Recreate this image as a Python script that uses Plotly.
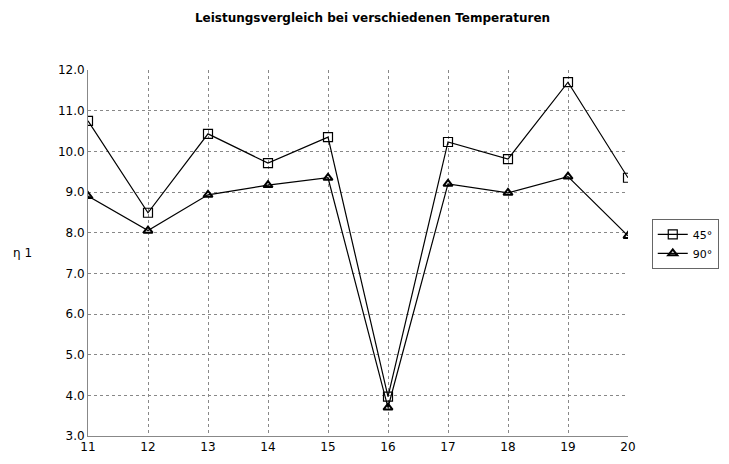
import plotly.graph_objects as go

x_vals = [11, 12, 13, 14, 15, 16, 17, 18, 19, 20]
s45 = [10.75, 8.49, 10.43, 9.71, 10.35, 3.97, 10.23, 9.81, 11.70, 9.35]
s90 = [8.90, 8.05, 8.93, 9.17, 9.35, 3.70, 9.20, 8.98, 9.38, 7.92]
y_ticks = [3, 4, 5, 6, 7, 8, 9, 10, 11, 12]

fig = go.Figure()
fig.add_trace(go.Scatter(
    x=x_vals, y=s45, name="45°", mode="lines+markers",
    line=dict(color="black", width=1.2),
    marker=dict(symbol="square-open", size=9, color="black", line=dict(width=1.2)),
))
fig.add_trace(go.Scatter(
    x=x_vals, y=s90, name="90°", mode="lines+markers",
    line=dict(color="black", width=1.2),
    marker=dict(symbol="triangle-up-open", size=8, color="black", line=dict(width=2)),
))

fig.update_layout(
    width=729, height=464,
    margin=dict(l=80, r=109, t=62, b=36, autoexpand=False),
    paper_bgcolor="white", plot_bgcolor="white",
    font=dict(family="DejaVu Sans", size=12, color="black"),
    title=dict(text="<b>Leistungsvergleich bei verschiedenen Temperaturen</b>",
               x=0.5, xanchor="center", y=0.978, yanchor="middle",
               font=dict(size=12, family="DejaVu Sans")),
    showlegend=True,
    legend=dict(x=1.044, y=0.525, xanchor="left", yanchor="middle",
                bordercolor="#666666", borderwidth=1, bgcolor="white",
                font=dict(size=11), tracegroupgap=0, itemwidth=30),
    xaxis=dict(range=[11, 20], tickmode="array", tickvals=x_vals,
               ticktext=[str(v) for v in x_vals],
               showgrid=True, gridcolor="#888888", griddash="dot", gridwidth=1,
               zeroline=False, showline=True, linecolor="#888888", linewidth=1,
               mirror=False, ticks="", tickfont=dict(size=12)),
    yaxis=dict(range=[3, 12], tickmode="array", tickvals=y_ticks,
               ticktext=[f"{v:.1f}" for v in y_ticks],
               showgrid=True, gridcolor="#888888", griddash="dot", gridwidth=1,
               zeroline=False, showline=True, linecolor="#888888", linewidth=1,
               ticks="", tickfont=dict(size=12)),
)
fig.add_annotation(text="η 1", xref="paper", yref="paper", x=-0.122, y=0.5,
                   xanchor="center", yanchor="middle", showarrow=False,
                   font=dict(size=12))

fig.write_html("out.html")
